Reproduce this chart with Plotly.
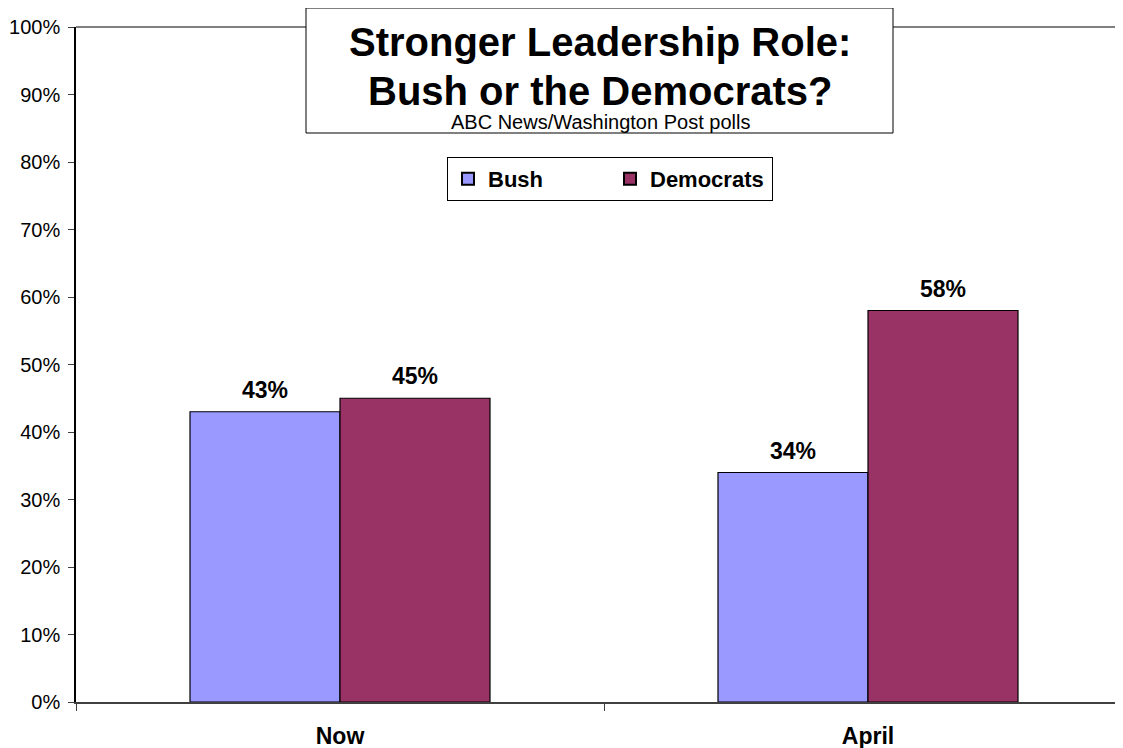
import plotly.graph_objects as go

categories = ["Now", "April"]
series_names = ["Bush", "Democrats"]
bush_values = [0.43, 0.34]
democrats_values = [0.45, 0.58]
colors = ["#9999FF", "#993366"]
title_lines = ["Stronger Leadership Role:", "Bush or the Democrats?"]
subtitle = "ABC News/Washington Post polls"

FONT = "Arial, Liberation Sans, sans-serif"
OFF = 8  # page body margin
W, H = 1123 - OFF, 748 - OFF
# plot area in screenshot coords: x 76..1123, y 27..702
PX0, PX1, PY0, PY1 = 76, 1123, 27, 702
ML, MR, MT, MB = PX0 - OFF, 0, PY0 - OFF, H - (PY1 - OFF)
pw = PX1 - PX0
ph = PY1 - PY0
CAT_W = 528.0
BAR_W = 150.0


def px_x(p):
    return (p - PX0) / pw


def px_y(p):
    return (PY1 - p) / ph


fig = go.Figure()
all_vals = [bush_values, democrats_values]
for name, vals, col in zip(series_names, all_vals, colors):
    fig.add_trace(go.Bar(
        name=name, x=categories, y=vals,
        marker=dict(color=col, line=dict(color="#000000", width=1.2)),
        hoverinfo="x+y",
    ))

annotations = []
for si, vals in enumerate(all_vals):
    shift = (si - 0.5) * BAR_W
    for cat, v in zip(categories, vals):
        annotations.append(dict(
            x=cat, y=v, xref="x", yref="y", text=f"<b>{v:.0%}</b>",
            showarrow=False, xshift=shift, yshift=22, yanchor="middle",
            font=dict(family=FONT, size=23, color="#000000"),
        ))

annotations += [
    dict(xref="paper", yref="paper", x=px_x(600), y=px_y(42),
         text="<b>" + title_lines[0] + "</b>", showarrow=False,
         font=dict(family=FONT, size=40, color="#000000"),
         xanchor="center", yanchor="middle"),
    dict(xref="paper", yref="paper", x=px_x(600), y=px_y(91),
         text="<b>" + title_lines[1] + "</b>", showarrow=False,
         font=dict(family=FONT, size=40, color="#000000"),
         xanchor="center", yanchor="middle"),
    dict(xref="paper", yref="paper", x=px_x(600), y=px_y(122),
         text=subtitle, showarrow=False,
         font=dict(family=FONT, size=20, color="#000000"),
         xanchor="center", yanchor="middle"),
]

fig.update_layout(
    width=W, height=H,
    margin=dict(l=ML, r=MR, t=MT, b=MB, pad=0),
    paper_bgcolor="white", plot_bgcolor="white",
    barmode="group", bargap=1 - 2 * BAR_W / CAT_W, bargroupgap=0,
    font=dict(family=FONT, color="#000000"),
    showlegend=True,
    legend=dict(
        orientation="h", x=px_x(610), y=px_y(157), xanchor="center", yanchor="top",
        bgcolor="white", bordercolor="#000000", borderwidth=1,
        font=dict(family=FONT, size=22, color="#000000", weight="bold"),
        itemsizing="constant", traceorder="normal",
        entrywidth=117, entrywidthmode="pixels", itemwidth=30,
    ),
    xaxis=dict(
        type="category", range=[-0.5, -0.5 + pw / CAT_W],
        showline=True, linecolor="#404040", linewidth=2,
        ticks="outside", tickson="boundaries", ticklen=7, tickcolor="#404040",
        tickfont=dict(family=FONT, size=23, color="#000000", weight="bold"),
        ticklabelstandoff=12,
        showgrid=False, zeroline=False,
    ),
    yaxis=dict(
        range=[0, 1], dtick=0.1, tickformat=".0%",
        showline=True, linecolor="#000000", linewidth=1.5,
        ticks="outside", ticklen=6, tickcolor="#404040",
        tickfont=dict(family=FONT, size=20, color="#000000"),
        ticklabelstandoff=4,
        showgrid=False, zeroline=False,
    ),
    shapes=[
        dict(type="line", xref="paper", yref="paper", x0=0, x1=1, y0=1, y1=1,
             line=dict(color="#808080", width=2), layer="above"),
        dict(type="rect", xref="paper", yref="paper",
             x0=px_x(306), x1=px_x(893), y0=px_y(133), y1=px_y(8),
             fillcolor="white", line=dict(color="#000000", width=1), layer="above"),
    ],
    annotations=annotations,
)

fig.write_html("out.html")
